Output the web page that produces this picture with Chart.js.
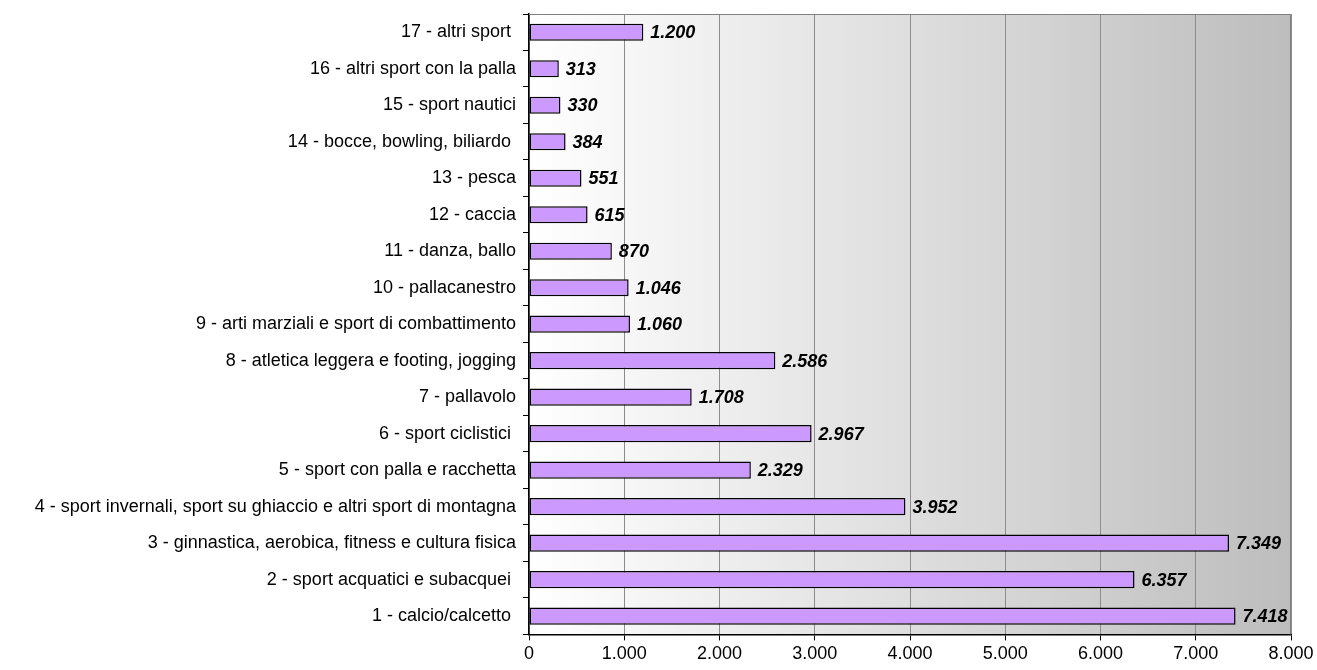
<!DOCTYPE html>
<html>
<head>
<meta charset="utf-8">
<script src="https://cdn.jsdelivr.net/npm/chart.js@4/dist/chart.umd.min.js"></script>
<style>
  html, body { margin: 0; padding: 0; background: #fff; }
  #wrap { width: 1317px; height: 670px; }
</style>
</head>
<body>
<div id="wrap"><canvas id="sportChart" width="1317" height="670"></canvas></div>
<script>
const categories = [
  '17 - altri sport ',
  '16 - altri sport con la palla',
  '15 - sport nautici',
  '14 - bocce, bowling, biliardo ',
  '13 - pesca',
  '12 - caccia',
  '11 - danza, ballo',
  '10 - pallacanestro',
  '9 - arti marziali e sport di combattimento',
  '8 - atletica leggera e footing, jogging',
  '7 - pallavolo',
  '6 - sport ciclistici ',
  '5 - sport con palla e racchetta',
  '4 - sport invernali, sport su ghiaccio e altri sport di montagna',
  '3 - ginnastica, aerobica, fitness e cultura fisica',
  '2 - sport acquatici e subacquei ',
  '1 - calcio/calcetto '
]
const values = [1200, 313, 330, 384, 551, 615, 870, 1046, 1060, 2586, 1708, 2967, 2329, 3952, 7349, 6357, 7418]
const xTicks = [0, 1000, 2000, 3000, 4000, 5000, 6000, 7000, 8000]

const fmt = v => String(v).replace(/\B(?=(\d{3})+(?!\d))/g, '.')

// gray gradient behind the plot, plus the thin top/right frame
const plotBackground = {
  id: 'plotBackground',
  beforeDraw (chart) {
    const { ctx, chartArea: a } = chart
    const g = ctx.createLinearGradient(a.left, 0, a.right, 0)
    g.addColorStop(0, '#ffffff')
    g.addColorStop(1, '#bdbdbd')
    ctx.save()
    ctx.fillStyle = g
    ctx.fillRect(a.left, a.top, a.right - a.left, a.bottom - a.top)
    ctx.restore()
  },
  afterDraw (chart) {
    const { ctx, chartArea: a } = chart
    ctx.save()
    ctx.strokeStyle = '#808080'
    ctx.lineWidth = 1
    ctx.beginPath()
    ctx.moveTo(a.left, a.top + 0.5)
    ctx.lineTo(a.right - 0.5, a.top + 0.5)
    ctx.lineTo(a.right - 0.5, a.bottom)
    ctx.stroke()
    ctx.restore()
  }
}

const valueLabels = {
  id: 'valueLabels',
  afterDatasetsDraw (chart) {
    const { ctx } = chart
    const meta = chart.getDatasetMeta(0)
    ctx.save()
    ctx.font = 'italic bold 18px "Liberation Sans", Arial, sans-serif'
    ctx.fillStyle = '#000'
    ctx.textBaseline = 'middle'
    ctx.textAlign = 'left'
    meta.data.forEach((bar, i) => {
      ctx.fillText(fmt(values[i]), bar.x + 7, bar.y + 1)
    })
    ctx.restore()
  }
}

new Chart(document.getElementById('sportChart'), {
  type: 'bar',
  data: {
    labels: categories,
    datasets: [{
      data: values,
      backgroundColor: '#cc99ff',
      borderColor: '#000000',
      borderWidth: 1.5,
      borderSkipped: false,
      categoryPercentage: 1,
      barPercentage: 0.47
    }]
  },
  options: {
    indexAxis: 'y',
    responsive: false,
    animation: false,
    layout: { padding: { top: 14, right: 26, bottom: 2, left: 0 } },
    plugins: {
      legend: { display: false },
      tooltip: { enabled: false }
    },
    scales: {
      x: {
        min: 0,
        max: 8000,
        afterBuildTicks (scale) { scale.ticks = xTicks.map(v => ({ value: v })) },
        grid: { color: '#8c8c8c', tickColor: '#000', tickLength: 6, lineWidth: 1 },
        border: { color: '#000', width: 1.5 },
        ticks: {
          color: '#000',
          font: { family: '"Liberation Sans", Arial, sans-serif', size: 18 },
          padding: 3,
          maxRotation: 0,
          callback: v => fmt(v)
        }
      },
      y: {
        afterFit (scale) {
          scale.width = 529
          scale.paddingTop = 0
          scale.paddingBottom = 0
        },
        grid: { drawOnChartArea: false, color: '#000', tickLength: 6, offset: true },
        border: { color: '#000', width: 1.5 },
        ticks: {
          color: '#000',
          font: { family: '"Liberation Sans", Arial, sans-serif', size: 18 },
          padding: 7,
          autoSkip: false
        }
      }
    }
  },
  plugins: [plotBackground, valueLabels]
})
</script>
</body>
</html>
